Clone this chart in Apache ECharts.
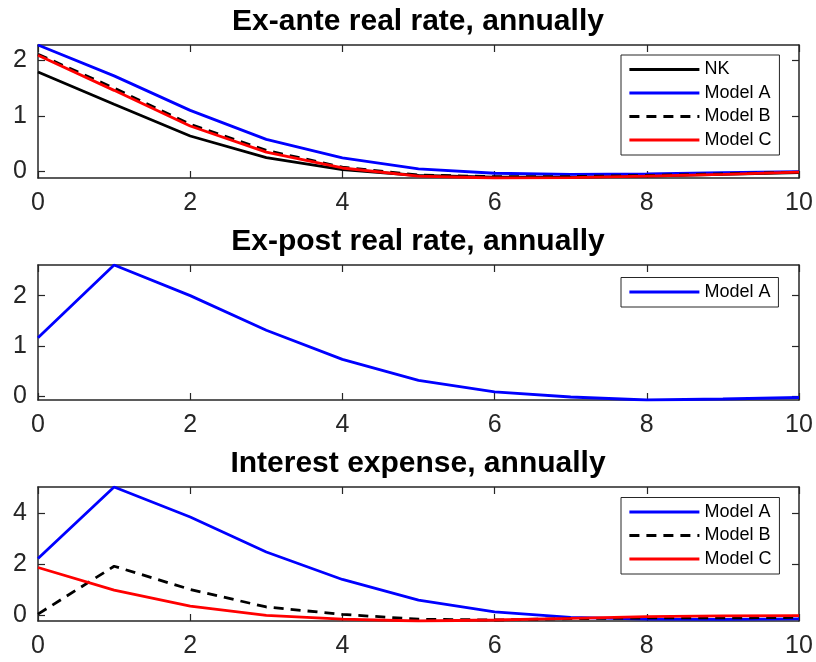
<!DOCTYPE html>
<html><head><meta charset="utf-8">
<script src="https://cdn.jsdelivr.net/npm/echarts@6/dist/echarts.min.js"></script>
<style>html,body{margin:0;padding:0;background:#fff}#c{width:816px;height:662px}</style>
</head><body><div id="c"></div>
<script>
const xs = [0,1,2,3,4,5,6,7,8,9,10];
const xTicks = [0,2,4,6,8,10];
const titles = ['Ex-ante real rate, annually','Ex-post real rate, annually','Interest expense, annually'];
// Panel 1
const p1NK     = [1.79,1.21,0.64,0.25,0.035,-0.07,-0.10,-0.10,-0.08,-0.05,-0.02];
const p1A      = [2.275,1.72,1.10,0.58,0.245,0.05,-0.03,-0.05,-0.04,-0.02,0.00];
const p1B      = [2.11,1.50,0.85,0.38,0.08,-0.06,-0.09,-0.09,-0.07,-0.04,-0.01];
const p1C      = [2.09,1.46,0.82,0.35,0.065,-0.08,-0.115,-0.11,-0.08,-0.05,-0.01];
const p1YTicks = [0,1,2];
// Panel 2
const p2A      = [1.16,2.61,2.00,1.31,0.73,0.31,0.08,-0.02,-0.08,-0.06,-0.03];
const p2YTicks = [0,1,2];
// Panel 3
const p3A      = [2.21,5.02,3.84,2.47,1.39,0.58,0.12,-0.10,-0.17,-0.18,-0.16];
const p3B      = [0.03,1.91,1.00,0.31,0.02,-0.17,-0.20,-0.15,-0.12,-0.12,-0.10];
const p3C      = [1.86,0.97,0.34,-0.02,-0.17,-0.24,-0.20,-0.14,-0.07,-0.04,-0.03];
const p3YTicks = [0,2,4];

const yRanges = [[-0.115,2.275],[-0.08,2.61],[-0.24,5.02]];
const yTicks = [p1YTicks,p2YTicks,p3YTicks];
const grids = [{top:45,height:133},{top:265,height:135},{top:487,height:134}];
const axisCol = '#262626';
const FONT = '"Liberation Sans", Arial, Helvetica, sans-serif';

const pts = arr => xs.map((x,i)=>[x,arr[i]]);
const styles = {
  'NK':{color:'#000000',type:'solid'},
  'Model A':{color:'#0000ff',type:'solid'},
  'Model B':{color:'#000000',type:[10,7]},
  'Model C':{color:'#ff0000',type:'solid'}
};
const panelSeries = [
  [['NK',p1NK],['Model A',p1A],['Model B',p1B],['Model C',p1C]],
  [['Model A',p2A]],
  [['Model A',p3A],['Model B',p3B],['Model C',p3C]]
];
const legendTops = [55,277.5,497.5];
const titleTops = [7,227,449];

const option = {animation:false, backgroundColor:'#fff',
  title:[], grid:[], xAxis:[], yAxis:[], series:[], legend:[]};

grids.forEach((g,i)=>{
  option.grid.push({left:38,width:761,top:g.top,height:g.height,containLabel:false});
  const common = {gridIndex:i, axisLine:{show:true,onZero:false,lineStyle:{color:axisCol,width:1.5}},
    axisTick:{show:true,inside:true,length:7,lineStyle:{color:axisCol,width:1.2}},
    splitLine:{show:false}};
  option.xAxis.push(Object.assign({}, common, {type:'value',position:'bottom',min:0,max:10,interval:2,
    axisLabel:{show:true,color:axisCol,fontSize:25,fontFamily:FONT,margin:13}}));
  option.xAxis.push(Object.assign({}, common, {type:'value',position:'top',min:0,max:10,interval:2,
    axisLabel:{show:false}}));
  const yt = yTicks[i];
  option.yAxis.push(Object.assign({}, common, {type:'value',position:'left',min:yRanges[i][0],max:yRanges[i][1],
    axisTick:{show:true,inside:true,length:7,lineStyle:{color:axisCol,width:1.2},customValues:yt},
    axisLabel:{show:true,color:axisCol,fontSize:25,fontFamily:FONT,margin:11,customValues:yt}}));
  option.yAxis.push(Object.assign({}, common, {type:'value',position:'right',min:yRanges[i][0],max:yRanges[i][1],
    axisTick:{show:true,inside:true,length:7,lineStyle:{color:axisCol,width:1.2},customValues:yt},
    axisLabel:{show:false,customValues:yt}}));
  option.title.push({text:titles[i],left:418,textAlign:'center',top:titleTops[i],padding:0,
    textStyle:{fontSize:30,fontWeight:'bold',color:'#000',fontFamily:FONT}});
  const names = [];
  panelSeries[i].forEach(([name,arr])=>{
    names.push(name);
    option.series.push({type:'line',name:name,xAxisIndex:2*i,yAxisIndex:2*i,data:pts(arr),
      symbol:'none',showSymbol:false,clip:true,
      lineStyle:{color:styles[name].color,width:2.8,type:styles[name].type},
      itemStyle:{color:styles[name].color}});
  });
  option.legend.push({data:names,left:621,top:legendTops[i],orient:'vertical',
    itemWidth:70,itemHeight:18,itemGap:5.5,itemTextGap:6,padding:[5.5,8,6,7],
    backgroundColor:'#fff',borderColor:axisCol,borderWidth:1,selectedMode:false,
    textStyle:{fontSize:18,color:'#000',fontFamily:FONT},
    itemStyle:{opacity:0},lineStyle:{width:2.8}});
});

const chart = echarts.init(document.getElementById('c'),null,{renderer:'canvas'});
chart.setOption(option);
</script></body></html>
